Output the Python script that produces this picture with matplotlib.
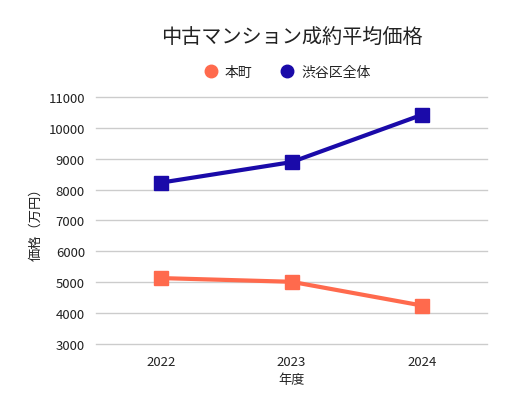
import matplotlib
matplotlib.use('Agg')
import matplotlib.pyplot as plt
from matplotlib.lines import Line2D

plt.rcParams['font.family'] = ['Noto Sans CJK JP', 'DejaVu Sans']

# データ
years = ['2022', '2023', '2024']
honmachi = [5130, 5010, 4240]
shibuya = [8230, 8895, 10430]
yticks = [3000, 4000, 5000, 6000, 7000, 8000, 9000, 10000, 11000]

c_honmachi = '#ff6a4d'
c_shibuya = '#1a0aa9'
txt = '#222222'

fig = plt.figure(figsize=(5.14, 4.14), dpi=100)
ax = fig.add_axes([0.1868, 0.1674, 0.7607, 0.5952])

x = range(len(years))
ax.plot(x, honmachi, color=c_honmachi, lw=3, marker='s', ms=9.5, zorder=3)
ax.plot(x, shibuya, color=c_shibuya, lw=3, marker='s', ms=9.5, zorder=3)

ax.set_xlim(-0.5, 2.5)
ax.set_ylim(3000, 11000)
ax.set_xticks(list(x))
ax.set_xticklabels(years)
ax.set_yticks(yticks)
ax.tick_params(length=0, labelsize=9.5, labelcolor=txt, pad=8)
ax.grid(axis='y', color='#cccccc', lw=1)
for gl in ax.get_ygridlines():
    gl.set_clip_on(False)
ax.set_axisbelow(True)
for s in ax.spines.values():
    s.set_visible(False)

ax.set_xlabel('年度', fontsize=9.5, color=txt, labelpad=4)
ax.set_ylabel('価格（万円）', fontsize=9.5, color=txt, labelpad=4)

fig.text(0.567, 0.908, '中古マンション成約平均価格', ha='center', va='center',
         fontsize=14.5, color=txt)

handles = [Line2D([], [], ls='', marker='o', ms=9, color=c_honmachi),
           Line2D([], [], ls='', marker='o', ms=9, color=c_shibuya)]
fig.legend(handles, ['本町', '渋谷区全体'], loc='center', bbox_to_anchor=(0.559, 0.823),
           ncol=2, frameon=False, fontsize=10, handletextpad=0.5, columnspacing=2.0,
           handlelength=1.0, labelcolor=txt)

fig.savefig('out.png', dpi=100)
